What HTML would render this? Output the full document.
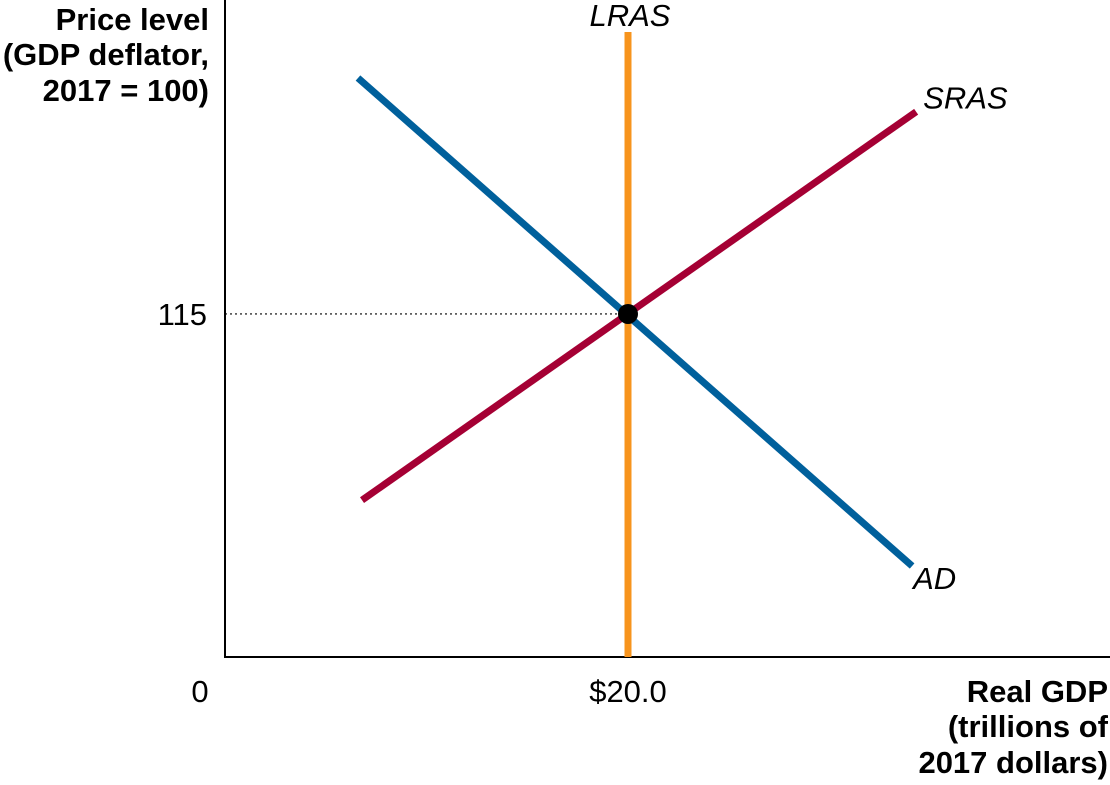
<!DOCTYPE html>
<html><head><meta charset="utf-8"><style>
html,body{margin:0;padding:0;background:#fff;width:1110px;height:785px;overflow:hidden}
svg text{font-family:"Liberation Sans",Arial,sans-serif}
</style></head><body>
<svg id="chart" width="1110" height="785" viewBox="0 0 1110 785" xmlns="http://www.w3.org/2000/svg">
<g font-size="31" font-weight="bold" text-anchor="end" fill="#000">
<text x="209" y="30">Price level</text>
<text x="209" y="65">(GDP deflator,</text>
<text x="209" y="101">2017 = 100)</text>
</g>
<g font-size="31" font-weight="bold" text-anchor="end" fill="#000">
<text x="1108" y="702">Real GDP</text>
<text x="1108" y="737">(trillions of</text>
<text x="1108" y="773">2017 dollars)</text>
</g>
<line x1="225" y1="0" x2="225" y2="658" stroke="#000" stroke-width="2"/>
<line x1="224" y1="657" x2="1110" y2="657" stroke="#000" stroke-width="2"/>
<g id="marks"></g>
</svg>
<script>
const xTicks=[0,20];
const xTickLabels=["0","$20.0"];
const yTicks=[115];
const yTickLabels=["115"];
const adX=[6.6,34.1];
const adY=[194.1,30.5];
const srasX=[6.8,34.3];
const srasY=[52.6,182.8];
const lrasX=[20,20];
const lrasY=[0,209.5];
const eqX=[20];
const eqY=[115];
function xs(v){return 225+v*20.15;}
function ys(v){return 657-v*2.983;}
const NS="http://www.w3.org/2000/svg";
const g=document.getElementById('marks');
function mk(t,a){const e=document.createElementNS(NS,t);for(const k in a)e.setAttribute(k,a[k]);g.appendChild(e);return e;}
const guide=mk('line',{x1:225,y1:ys(eqY[0]),x2:xs(eqX[0]),y2:ys(eqY[0]),stroke:'#000','stroke-width':1.2,'stroke-dasharray':'2,3'});


const lr=mk('line',{x1:xs(lrasX[0]),y1:ys(lrasY[0]),x2:xs(lrasX[1]),y2:ys(lrasY[1]),stroke:'#F7941D','stroke-width':7});


const ad=mk('line',{x1:xs(adX[0]),y1:ys(adY[0]),x2:xs(adX[1]),y2:ys(adY[1]),stroke:'#00609C','stroke-width':7});


const sr=mk('line',{x1:xs(srasX[0]),y1:ys(srasY[0]),x2:xs(srasX[1]),y2:ys(srasY[1]),stroke:'#A50034','stroke-width':7});


const eq=mk('circle',{cx:xs(eqX[0]),cy:ys(eqY[0]),r:10,fill:'#000'});


xTicks.forEach((v,i)=>{
 const t=mk('text',{x:i===0?200:xs(v),y:702,'font-size':31,'text-anchor':'middle',fill:'#000'});
 t.textContent=xTickLabels[i];
 
 
});
yTicks.forEach((v,i)=>{
 const t=mk('text',{x:207,y:ys(v)+11,'font-size':31,'text-anchor':'end',fill:'#000'});
 t.textContent=yTickLabels[i];
 
 
});
function lbl(txt,x,y,anchor,name){
 const t=mk('text',{x:x,y:y,'font-size':31,'font-style':'italic','text-anchor':anchor,fill:'#000'});
 t.textContent=txt;
 
 
}
lbl('LRAS',xs(lrasX[1])+2,ys(lrasY[1])-6,'middle','lras-label');
lbl('SRAS',xs(srasX[1])+7,ys(srasY[1])-3,'start','sras-label');
lbl('AD',xs(adX[1])+1,ys(adY[1])+23,'start','ad-label');
</script>
</body></html>
